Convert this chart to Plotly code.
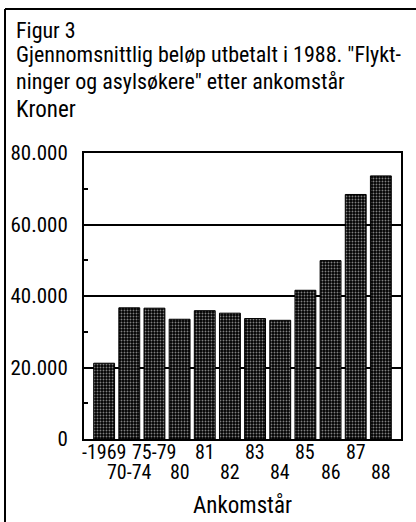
import plotly.graph_objects as go

# Average amount paid out in 1988 by year of arrival
categories = ["-1969", "70-74", "75-79", "80", "81", "82", "83", "84", "85", "86", "87", "88"]
amounts = [21200, 36700, 36600, 33500, 35900, 35200, 33700, 33200, 41600, 49900, 68400, 73600]

y_tickvals = [0, 20000, 40000, 60000, 80000]
y_ticktext = ["0", "20.000", "40.000", "60.000", "80.000"]
y_minor = [10000, 30000, 50000, 70000]

title_lines = [
    "Figur 3",
    "Gjennomsnittlig beløp utbetalt i 1988. \"Flykt-",
    "ninger og asylsøkere\" etter ankomstår",
]
y_label = "Kroner"
x_label = "Ankomstår"

W, H = 416, 522
L, R, T, B = 84, 15, 153, 83
PW, PH = W - L - R, H - T - B

FONT = "Roboto Condensed, Liberation Sans Narrow, Arial Narrow, sans-serif"
FS_TITLE = 22
FS_LABEL = 23
FS_TICK = 21
FS_CAT = 20


def px_x(x):
    return (x - L) / PW


def px_y(y):
    return (H - B - y) / PH


def font(size):
    return dict(family=FONT, size=size, color="black")


fig = go.Figure()
fig.add_trace(go.Bar(
    x=list(range(len(categories))),
    y=amounts,
    width=0.83,
    marker=dict(
        color="black",
        line=dict(color="black", width=1),
        pattern=dict(shape=".", fgcolor="white", bgcolor="black", size=3, solidity=0.32),
    ),
    showlegend=False,
))

annotations = []
# Title block and unit label, left aligned
for text, ymid, fs in zip(title_lines + [y_label], [30, 55, 82, 109],
                          [FS_TITLE, FS_TITLE, FS_TITLE, FS_LABEL]):
    annotations.append(dict(
        text=text, x=px_x(14), y=px_y(ymid), xref="paper", yref="paper",
        xanchor="left", yanchor="middle", showarrow=False, font=font(fs),
    ))

# Category labels in two staggered rows under the bars
for i, cat in enumerate(categories):
    annotations.append(dict(
        text=cat, x=i, y=0, xref="x", yref="y",
        xanchor="center", yanchor="top", showarrow=False,
        yshift=1 - (20 if i % 2 else 0), font=font(FS_CAT),
    ))

annotations.append(dict(
    text=x_label, x=5.5, y=px_y(506),
    xref="x", yref="paper", xanchor="center", yanchor="middle", showarrow=False,
    font=font(FS_LABEL),
))

fig.update_layout(
    width=W, height=H,
    margin=dict(l=L, r=R, t=T, b=B, pad=0, autoexpand=False),
    paper_bgcolor="white", plot_bgcolor="white",
    font=font(FS_TICK),
    annotations=annotations,
    shapes=[
        dict(type="line", xref="paper", yref="paper", x0=px_x(5), x1=px_x(W + 5),
             y0=px_y(9), y1=px_y(9), line=dict(color="black", width=2)),
        dict(type="line", xref="paper", yref="paper", x0=px_x(5), x1=px_x(5),
             y0=px_y(9), y1=px_y(H + 5), line=dict(color="black", width=2)),
    ],
)

fig.update_xaxes(
    range=[-0.8, 11.8], automargin=False,
    showticklabels=False, ticks="",
    showline=True, mirror=True, linecolor="black", linewidth=2,
    showgrid=False, zeroline=False,
)
fig.update_yaxes(
    range=[0, 80000], tickvals=y_tickvals, ticktext=y_ticktext, automargin=False,
    ticks="", ticklabelstandoff=10, tickfont=font(FS_TICK),
    showline=True, mirror=True, linecolor="black", linewidth=2,
    showgrid=True, gridcolor="black", gridwidth=2, zeroline=False,
    minor=dict(tickvals=y_minor, ticks="inside", ticklen=4, tickwidth=2,
               tickcolor="black", showgrid=False),
)

fig.write_html("out.html")
